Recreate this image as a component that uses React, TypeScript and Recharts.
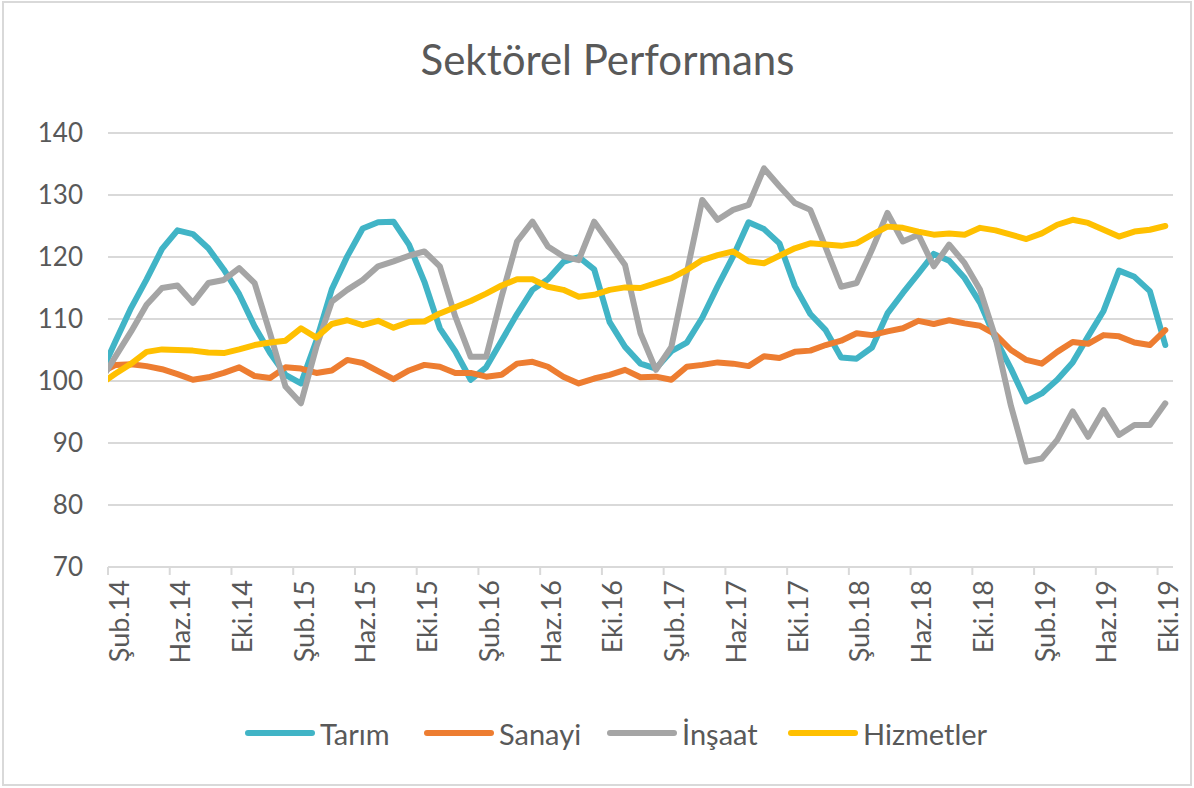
import React from 'react';
import { LineChart, Line, XAxis, YAxis, CartesianGrid, Legend } from 'recharts';

// Monthly index values, Oca.14 .. Eki.19 (the January 2014 point sits just left of the axis start)
const TARIM = [
  101, 106.5, 111.8, 116.4, 121.3, 124.3, 123.7, 121.4, 118, 114, 108.8, 104.5,
  101, 99.6, 106.5, 114.8, 120.1, 124.6, 125.6, 125.7, 122, 116, 108.5, 104.8,
  100.2, 102.2, 106.5, 110.8, 114.7, 116.4, 119.2, 120, 118, 109.5, 105.5, 102.8,
  102, 104.8, 106.2, 110.2, 115.3, 120.1, 125.6, 124.5, 122.2, 115.3, 110.8, 108.2,
  103.8, 103.6, 105.4, 110.9, 114.2, 117.3, 120.5, 119.4, 116.6, 112.6, 106.8, 102,
  96.7, 98, 100.2, 103, 107.2, 111.3, 117.8, 116.8, 114.5, 105.8,
];
const SANAYI = [
  101.3, 102.6, 102.7, 102.4, 101.9, 101.1, 100.2, 100.6, 101.3, 102.2, 100.8, 100.5,
  102.2, 102, 101.3, 101.7, 103.4, 102.9, 101.6, 100.3, 101.7, 102.6, 102.3, 101.3,
  101.3, 100.7, 101, 102.8, 103.1, 102.3, 100.7, 99.6, 100.4, 101, 101.8, 100.6,
  100.7, 100.2, 102.3, 102.6, 103, 102.8, 102.4, 104, 103.7, 104.7, 104.9, 105.8,
  106.5, 107.7, 107.4, 108, 108.5, 109.7, 109.2, 109.8, 109.3, 108.9, 107.5, 105,
  103.4, 102.8, 104.7, 106.3, 106, 107.4, 107.2, 106.2, 105.8, 108.2,
];
const INSAAT = [
  100, 104, 108, 112.3, 115, 115.4, 112.6, 115.8, 116.3, 118.2, 115.8, 107.7,
  99.1, 96.4, 105.5, 112.8, 114.7, 116.3, 118.5, 119.3, 120.2, 120.9, 118.5, 110.4,
  103.9, 103.9, 113.6, 122.5, 125.7, 121.7, 120.1, 119.5, 125.7, 122.2, 118.7, 107.7,
  101.8, 105.5, 117.5, 129.2, 126, 127.6, 128.4, 134.3, 131.4, 128.7, 127.6, 121.5,
  115.2, 115.8, 121.2, 127.1, 122.5, 123.6, 118.5, 122, 119, 114.7, 107, 96,
  87, 87.5, 90.5, 95.1, 91, 95.3, 91.3, 92.9, 92.9, 96.4,
];
const HIZMETLER = [
  99.5, 101.2, 102.8, 104.7, 105.1, 105, 104.9, 104.6, 104.5, 105.1, 105.8, 106.2,
  106.5, 108.5, 107, 109.2, 109.8, 109, 109.7, 108.6, 109.5, 109.6, 110.9, 111.9,
  112.9, 114.1, 115.4, 116.4, 116.4, 115.2, 114.7, 113.6, 113.9, 114.7, 115.1, 115,
  115.8, 116.6, 117.9, 119.5, 120.3, 120.9, 119.3, 119, 120.2, 121.4, 122.2, 122,
  121.8, 122.2, 123.6, 124.9, 124.7, 124.1, 123.6, 123.8, 123.6, 124.7, 124.3, 123.6,
  122.9, 123.8, 125.2, 126, 125.5, 124.4, 123.3, 124.1, 124.4, 125,
];

const TICK_LABELS = [
  'Şub.14', 'Haz.14', 'Eki.14', 'Şub.15', 'Haz.15', 'Eki.15',
  'Şub.16', 'Haz.16', 'Eki.16', 'Şub.17', 'Haz.17', 'Eki.17',
  'Şub.18', 'Haz.18', 'Eki.18', 'Şub.19', 'Haz.19', 'Eki.19',
];
const Y_TICKS = [70, 80, 90, 100, 110, 120, 130, 140];

const SERIES = [
  { key: 'tarim', name: 'Tarım', color: '#41B4C6', width: 179 },
  { key: 'sanayi', name: 'Sanayi', color: '#ED7D31', width: 183 },
  { key: 'insaat', name: 'İnşaat', color: '#A5A5A5', width: 181 },
  { key: 'hizmetler', name: 'Hizmetler', color: '#FFC000', width: undefined },
];

const TEXT = '#595959';
const GRID = '#D9D9D9';

const chartData = TARIM.map((v, i) => ({
  idx: i,
  tarim: v,
  sanayi: SANAYI[i],
  insaat: INSAAT[i],
  hizmetler: HIZMETLER[i],
}));

// ticks sit on month boundaries, half a step before the labelled month's point
const tickPositions = TICK_LABELS.map((_, k) => 0.5 + 4 * k);

const XTick = ({ x, y, payload }: any) => {
  const k = Math.round((payload.value - 0.5) / 4);
  const cx = x + 10;
  return (
    <text
      x={cx}
      y={y}
      transform={`rotate(-90, ${cx}, ${y})`}
      textAnchor="end"
      dominantBaseline="central"
      fill={TEXT}
      fontSize={27}
    >
      {TICK_LABELS[k]}
    </text>
  );
};

const renderLegend = () => (
  <div style={{ display: 'flex', height: 36, alignItems: 'center', paddingLeft: 244 }}>
    {SERIES.map((s) => (
      <div
        key={s.key}
        style={{ display: 'flex', alignItems: 'center', width: s.width, flexShrink: 0 }}
      >
        <svg width={72} height={10} style={{ flexShrink: 0 }}>
          <line x1={4} y1={5} x2={68} y2={5} stroke={s.color} strokeWidth={6} strokeLinecap="round" />
        </svg>
        <span style={{ marginLeft: 4, fontSize: 29, color: TEXT, whiteSpace: 'nowrap' }}>{s.name}</span>
      </div>
    ))}
  </div>
);

export default function App() {
  return (
    <div
      style={{
        position: 'absolute',
        left: 0,
        top: 0,
        width: 1194,
        height: 788,
        background: '#fff',
        fontFamily: 'Lato, "Open Sans", sans-serif',
      }}
    >
      <div
        style={{
          position: 'absolute',
          left: 2,
          top: 1,
          width: 1190,
          height: 785,
          border: `2px solid ${GRID}`,
          boxSizing: 'border-box',
        }}
      />
      <div
        style={{
          position: 'absolute',
          left: 0,
          top: 38,
          width: 1215,
          textAlign: 'center',
          fontSize: 42,
          lineHeight: '42px',
          color: TEXT,
        }}
      >
        Sektörel Performans
      </div>
      <LineChart
        width={1194}
        height={788}
        data={chartData}
        margin={{ top: 133, right: 21, bottom: 37, left: 0 }}
      >
        <CartesianGrid vertical={false} stroke={GRID} strokeWidth={2} />
        <XAxis
          dataKey="idx"
          type="number"
          domain={[0.5, 69.5]}
          allowDataOverflow
          ticks={tickPositions}
          interval={0}
          height={148}
          tickSize={8}
          tickMargin={5}
          axisLine={{ stroke: GRID, strokeWidth: 2 }}
          tickLine={{ stroke: GRID, strokeWidth: 2 }}
          tick={<XTick />}
        />
        <YAxis
          domain={[70, 140]}
          ticks={Y_TICKS}
          interval={0}
          width={108}
          axisLine={false}
          tickLine={false}
          tickSize={0}
          tickMargin={25}
          tick={{ fill: TEXT, fontSize: 26 }}
        />
        <Legend verticalAlign="bottom" height={36} content={renderLegend} />
        {SERIES.map((s) => (
          <Line
            key={s.key}
            type="linear"
            dataKey={s.key}
            name={s.name}
            stroke={s.color}
            strokeWidth={6}
            strokeLinejoin="round"
            strokeLinecap="round"
            dot={false}
            activeDot={false}
            isAnimationActive={false}
          />
        ))}
      </LineChart>
    </div>
  );
}
